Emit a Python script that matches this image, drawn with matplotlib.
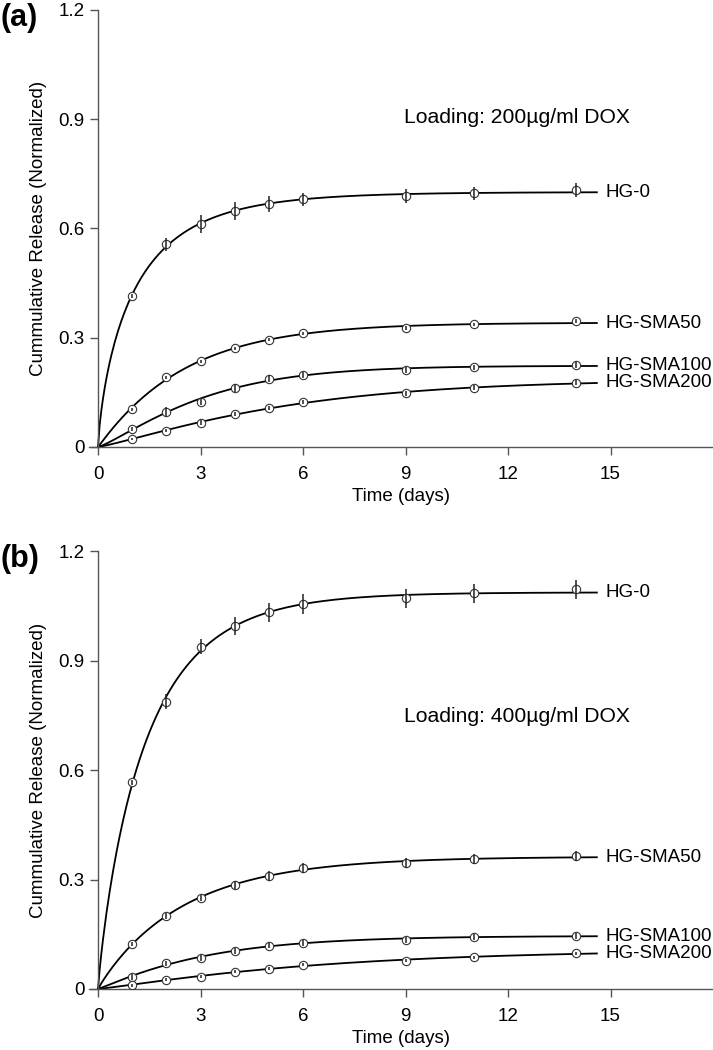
import matplotlib
matplotlib.use("Agg")
import matplotlib.pyplot as plt
import numpy as np

plt.rcParams['font.family'] = ['Liberation Sans', 'DejaVu Sans']

days = [1, 2, 3, 4, 5, 6, 9, 11, 14]
names = ['HG-0', 'HG-SMA50', 'HG-SMA100', 'HG-SMA200']

# (a) loading 200 ug/ml
a_vals = {
    'HG-0':      [0.415, 0.557, 0.612, 0.649, 0.667, 0.680, 0.689, 0.697, 0.706],
    'HG-SMA50':  [0.104, 0.191, 0.235, 0.271, 0.294, 0.312, 0.326, 0.337, 0.346],
    'HG-SMA100': [0.049, 0.097, 0.124, 0.162, 0.188, 0.198, 0.212, 0.219, 0.225],
    'HG-SMA200': [0.022, 0.045, 0.067, 0.090, 0.107, 0.123, 0.147, 0.163, 0.176],
}
a_err = {
    'HG-0':      [0.006, 0.018, 0.024, 0.025, 0.021, 0.018, 0.020, 0.018, 0.020],
    'HG-SMA50':  [0.004, 0.004, 0.004, 0.004, 0.004, 0.004, 0.005, 0.004, 0.005],
    'HG-SMA100': [0.006, 0.012, 0.010, 0.012, 0.010, 0.008, 0.008, 0.007, 0.008],
    'HG-SMA200': [0.004, 0.005, 0.006, 0.006, 0.006, 0.006, 0.007, 0.007, 0.007],
}
# (b) loading 400 ug/ml
b_vals = {
    'HG-0':      [0.566, 0.787, 0.938, 0.995, 1.032, 1.054, 1.070, 1.084, 1.095],
    'HG-SMA50':  [0.123, 0.201, 0.250, 0.285, 0.310, 0.331, 0.346, 0.356, 0.364],
    'HG-SMA100': [0.034, 0.070, 0.086, 0.103, 0.119, 0.127, 0.134, 0.143, 0.146],
    'HG-SMA200': [0.010, 0.025, 0.034, 0.047, 0.056, 0.066, 0.077, 0.087, 0.098],
}
b_err = {
    'HG-0':      [0.008, 0.021, 0.020, 0.024, 0.026, 0.027, 0.027, 0.027, 0.027],
    'HG-SMA50':  [0.006, 0.008, 0.008, 0.011, 0.014, 0.014, 0.014, 0.014, 0.014],
    'HG-SMA100': [0.008, 0.008, 0.008, 0.008, 0.008, 0.008, 0.008, 0.008, 0.008],
    'HG-SMA200': [0.004, 0.004, 0.004, 0.004, 0.004, 0.004, 0.004, 0.004, 0.004],
}

panels = [
    ('(a)', 'Loading: 200\u00b5g/ml DOX', a_vals, a_err, (8.95, 0.905)),
    ('(b)', 'Loading: 400\u00b5g/ml DOX', b_vals, b_err, (8.95, 0.748)),
]


def fit_release(t, y):
    # Weibull-type release: y = A * (1 - exp(-(k t)^b)); grid over k, b, least squares for A
    t = np.asarray(t, float)
    y = np.asarray(y, float)
    best = None
    for b in np.linspace(0.5, 1.6, 56):
        for k in np.linspace(0.02, 3.0, 600):
            g = 1 - np.exp(-(k * t) ** b)
            A = (g @ y) / (g @ g)
            r = np.sum((y - A * g) ** 2)
            if best is None or r < best[0]:
                best = (r, A, k, b)
    return best[1:]


fig = plt.figure(figsize=(7.13, 10.5), dpi=100)
axes_rects = [[0.1255, 0.5743, 0.8745, 0.4162], [0.1255, 0.0581, 0.8745, 0.4171]]
gray = '#555555'
tt = np.linspace(0, 14.6, 300)

for rect, (tag, note, vals, errs, note_xy) in zip(axes_rects, panels):
    ax = fig.add_axes(rect)
    for name in names:
        A, k, b = fit_release(days, vals[name])
        curve = A * (1 - np.exp(-(k * tt) ** b))
        ax.plot(tt, curve, color='black', lw=1.3, zorder=2)
        ax.plot(days, vals[name], 'o', ms=6, mfc='white', mec='#333333',
                mew=0.8, zorder=3)
        ax.errorbar(days, vals[name], yerr=errs[name], fmt='none',
                    ecolor='#222222', elinewidth=1.1, capsize=0, zorder=4)
        ax.text(14.85, curve[-1], name, fontsize=13.5, va='center', ha='left')

    ax.text(note_xy[0], note_xy[1], note, fontsize=15.2, va='center', ha='left')

    ax.set_xlim(-0.25, 18.0)
    ax.set_ylim(0, 1.2)
    ax.set_xticks([0, 3, 6, 9, 12, 15])
    ax.set_yticks([0, 0.3, 0.6, 0.9, 1.2])
    ax.set_yticklabels(['0', '0.3', '0.6', '0.9', '1.2'])
    ax.spines['top'].set_visible(False)
    ax.spines['right'].set_visible(False)
    ax.spines['left'].set_position(('data', 0))
    for s in ('left', 'bottom'):
        ax.spines[s].set_color(gray)
        ax.spines[s].set_linewidth(1.0)
    ax.tick_params(colors=gray, labelcolor='black', labelsize=13.5,
                   length=6, width=1.0, direction='out')
    ax.tick_params(axis='x', pad=8)
    ax.set_xlabel('Time (days)', fontsize=13.5, labelpad=3)
    ax.set_ylabel('Cummulative Release (Normalized)', fontsize=13.5)
    ax.yaxis.set_label_coords(-0.068, 0.5)

    y_top = rect[1] + rect[3]
    fig.text(0.0, y_top - 0.008, tag, fontsize=22, fontweight='bold',
             ha='left', va='center')

fig.savefig('out.png', dpi=100)
